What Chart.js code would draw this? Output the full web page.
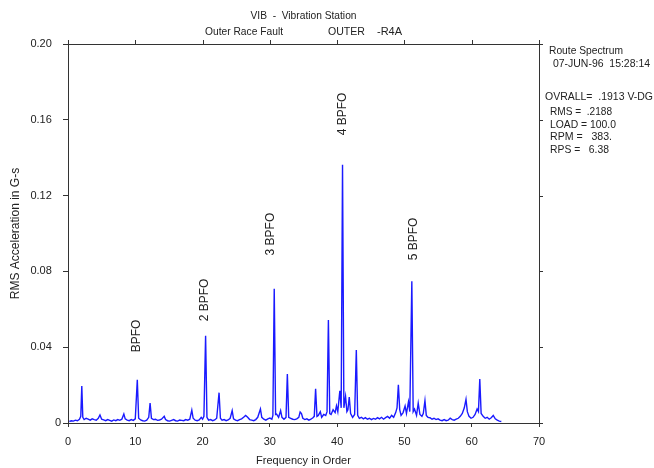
<!DOCTYPE html>
<html>
<head>
<meta charset="utf-8">
<script src="https://cdn.jsdelivr.net/npm/chart.js@4/dist/chart.umd.min.js"></script>
<style>
html,body{margin:0;padding:0;background:#fff;}
#wrap{width:654px;height:468px;position:relative;}
</style>
</head>
<body>
<div id="wrap"><canvas id="c" width="654" height="468"></canvas></div>
<script>
// ---- data ----
const orders = [0.2,0.5,0.8,1.1,1.4,1.7,1.9,2.05,2.2,2.4,2.7,3.0,3.3,3.6,3.9,4.2,4.5,4.75,5.0,5.3,5.6,5.9,6.2,6.5,6.8,7.1,7.4,7.7,8.0,8.3,8.5,8.8,9.1,9.4,9.7,10.0,10.3,10.5,10.8,11.1,11.4,11.7,12.0,12.2,12.4,12.7,13.0,13.3,13.6,13.9,14.3,14.5,14.8,15.1,15.4,15.7,16.0,16.3,16.6,16.9,17.2,17.5,17.8,18.1,18.4,18.6,18.9,19.2,19.5,19.8,20.0,20.2,20.45,20.65,20.9,21.2,21.5,21.8,22.1,22.45,22.65,22.9,23.2,23.5,23.8,24.1,24.4,24.6,24.9,25.2,25.5,25.8,26.1,26.4,26.7,27.0,27.3,27.6,27.9,28.2,28.6,28.8,29.1,29.4,29.7,30.0,30.3,30.45,30.65,30.85,31.0,31.3,31.6,31.8,32.1,32.4,32.6,32.8,33.1,33.4,33.7,34.0,34.3,34.5,34.7,34.9,35.2,35.5,35.8,36.1,36.4,36.6,36.8,37.0,37.2,37.5,37.7,38.0,38.3,38.5,38.7,38.9,39.1,39.4,39.7,39.9,40.1,40.4,40.6,40.8,41.0,41.25,41.45,41.6,41.8,42.0,42.3,42.6,42.85,43.05,43.3,43.6,43.9,44.2,44.5,44.8,45.1,45.4,45.7,46.0,46.3,46.6,46.9,47.2,47.5,47.8,48.1,48.4,48.7,48.9,49.1,49.3,49.5,49.8,50.1,50.3,50.6,50.8,51.1,51.3,51.5,51.8,52.05,52.3,52.6,52.8,53.05,53.25,53.5,53.8,54.1,54.4,54.7,55.0,55.3,55.6,55.9,56.2,56.5,56.8,57.1,57.4,57.7,58.0,58.3,58.6,58.9,59.15,59.35,59.6,59.9,60.2,60.5,60.8,61.0,61.2,61.4,61.7,62.0,62.3,62.6,62.9,63.2,63.5,63.8,64.1,64.4];
const amps = [0.0008,0.0012,0.0010,0.0015,0.0012,0.0020,0.0035,0.0195,0.0030,0.0018,0.0025,0.0020,0.0015,0.0022,0.0018,0.0015,0.0025,0.0042,0.0020,0.0016,0.0012,0.0018,0.0014,0.0010,0.0016,0.0012,0.0018,0.0014,0.0020,0.0048,0.0022,0.0015,0.0012,0.0018,0.0014,0.0022,0.0228,0.0025,0.0016,0.0012,0.0010,0.0015,0.0030,0.0105,0.0025,0.0018,0.0020,0.0014,0.0016,0.0020,0.0035,0.0018,0.0012,0.0010,0.0014,0.0018,0.0012,0.0010,0.0016,0.0014,0.0012,0.0018,0.0015,0.0020,0.0068,0.0025,0.0015,0.0012,0.0016,0.0030,0.0020,0.0035,0.0460,0.0030,0.0015,0.0018,0.0012,0.0016,0.0025,0.0160,0.0025,0.0015,0.0018,0.0012,0.0016,0.0025,0.0065,0.0022,0.0015,0.0012,0.0018,0.0022,0.0030,0.0040,0.0030,0.0018,0.0015,0.0012,0.0018,0.0030,0.0074,0.0030,0.0020,0.0015,0.0022,0.0026,0.0020,0.0040,0.0708,0.0045,0.0047,0.0030,0.0065,0.0030,0.0020,0.0030,0.0258,0.0030,0.0025,0.0020,0.0018,0.0022,0.0030,0.0058,0.0050,0.0025,0.0018,0.0022,0.0015,0.0020,0.0028,0.0035,0.0180,0.0035,0.0040,0.0060,0.0030,0.0045,0.0040,0.0060,0.0543,0.0050,0.0045,0.0070,0.0055,0.0091,0.0060,0.0170,0.0080,0.1363,0.0080,0.0140,0.0060,0.0070,0.0137,0.0050,0.0030,0.0045,0.0385,0.0040,0.0025,0.0030,0.0022,0.0028,0.0020,0.0025,0.0018,0.0024,0.0020,0.0028,0.0022,0.0030,0.0020,0.0028,0.0035,0.0025,0.0040,0.0030,0.0055,0.0080,0.0202,0.0070,0.0040,0.0055,0.0090,0.0050,0.0112,0.0060,0.0748,0.0060,0.0074,0.0040,0.0105,0.0045,0.0035,0.0050,0.0118,0.0040,0.0030,0.0028,0.0020,0.0025,0.0018,0.0022,0.0015,0.0012,0.0018,0.0012,0.0015,0.0025,0.0018,0.0015,0.0020,0.0025,0.0035,0.0050,0.0080,0.0125,0.0060,0.0035,0.0025,0.0030,0.0045,0.0074,0.0060,0.0232,0.0050,0.0035,0.0025,0.0030,0.0020,0.0028,0.0040,0.0022,0.0015,0.0010,0.0008];

const xTicks = [0,10,20,30,40,50,60,70];
const yTicks = [0,0.04,0.08,0.12,0.16,0.20];

const peakLabels = ['BPFO','2 BPFO','3 BPFO','4 BPFO','5 BPFO'];
const peakLabelOrders = [10.25,20.35,30.15,40.85,51.4];
const peakLabelValues = [0.0459,0.0649,0.0997,0.1631,0.0971];

const titleLine1 = 'VIB  -  Vibration Station';
const titleLine2 = ['Outer Race Fault','OUTER','-R4A'];
const infoLines = ['Route Spectrum','07-JUN-96  15:28:14','','OVRALL=  .1913 V-DG','RMS =  .2188','LOAD = 100.0','RPM =   383.','RPS =   6.38'];

const FONT = '"Liberation Sans", Arial, sans-serif';
const AXC = '#333333';

const points = orders.map((o,i)=>({x:o,y:amps[i]}));

const decor = {
  id:'decor',
  afterDraw(chart){
    const ctx = chart.ctx, a = chart.chartArea;
    const xs = chart.scales.x, ys = chart.scales.y;
    ctx.save();
    // frame
    ctx.strokeStyle = AXC; ctx.lineWidth = 1;
    ctx.strokeRect(Math.round(a.left)+0.5, Math.round(a.top)+0.5, Math.round(a.right-a.left), Math.round(a.bottom-a.top));
    // top and right ticks
    ctx.beginPath();
    xTicks.forEach(v=>{const px=Math.round(xs.getPixelForValue(v))+0.5; ctx.moveTo(px,a.top); ctx.lineTo(px,a.top-4);});
    yTicks.forEach(v=>{const py=Math.round(ys.getPixelForValue(v))+0.5; ctx.moveTo(a.right,py); ctx.lineTo(a.right+4,py);});
    ctx.stroke();
    // titles
    ctx.fillStyle = '#222';
    ctx.font = '11px '+FONT;
    ctx.textBaseline = 'middle';
    ctx.textAlign = 'center';
    ctx.fillText(titleLine1, (a.left+a.right)/2, 16, 106);
    ctx.textAlign = 'left';
    ctx.fillText(titleLine2[0], 205, 32, 78);
    ctx.fillText(titleLine2[1], 328, 32, 37);
    ctx.fillText(titleLine2[2], 377, 32, 28);
    // info block
    const infoX = [549,553,0,545,550,550,550,550];
    const infoY = [51,64,0,97,112,125,137,150];
    const infoW = [74,97,0,108,62,66,62,59];
    infoLines.forEach((t,i)=>{ if(t) ctx.fillText(t, infoX[i], infoY[i], infoW[i]); });
    // peak labels
    ctx.font = '12px '+FONT;
    ctx.textAlign = 'center';
    peakLabels.forEach((t,i)=>{
      const px = xs.getPixelForValue(peakLabelOrders[i]);
      const py = ys.getPixelForValue(peakLabelValues[i]);
      ctx.save(); ctx.translate(px,py); ctx.rotate(-Math.PI/2);
      ctx.fillText(t,0,0); ctx.restore();
    });
    ctx.restore();
  }
};

new Chart(document.getElementById('c'), {
  type:'line',
  data:{datasets:[{data:points, borderColor:'#1a1aff', borderWidth:1.4, pointRadius:0, tension:0, fill:false}]},
  options:{
    responsive:false, animation:false,
    layout:{padding:{top:44,right:115,left:0,bottom:0}},
    plugins:{legend:{display:false}, tooltip:{enabled:false}},
    scales:{
      x:{type:'linear', min:0, max:70,
        afterFit(s){s.height=45;},
        afterBuildTicks(s){s.ticks = xTicks.map(v=>({value:v}));},
        ticks:{color:'#222', font:{family:FONT,size:11}, padding:8, maxRotation:0},
        grid:{drawOnChartArea:false, drawTicks:true, tickLength:4, color:AXC},
        border:{display:true,color:AXC},
        title:{display:true, text:'Frequency in Order', color:'#222', font:{family:FONT,size:11}, padding:{top:4,bottom:0}}
      },
      y:{min:0, max:0.2,
        afterFit(s){s.width=68;},
        afterBuildTicks(s){s.ticks = yTicks.map(v=>({value:v}));},
        ticks:{color:'#222', font:{family:FONT,size:11}, padding:2,
          callback:(v)=> Math.abs(v)<1e-9 ? '0' : v.toFixed(2)+'   '},
        grid:{drawOnChartArea:false, drawTicks:true, tickLength:5, color:AXC},
        border:{display:true,color:AXC},
        title:{display:true, text:'RMS Acceleration in G-s', color:'#222', font:{family:FONT,size:12}, padding:{top:8,bottom:0}}
      }
    }
  },
  plugins:[decor]
});
</script>
</body>
</html>
